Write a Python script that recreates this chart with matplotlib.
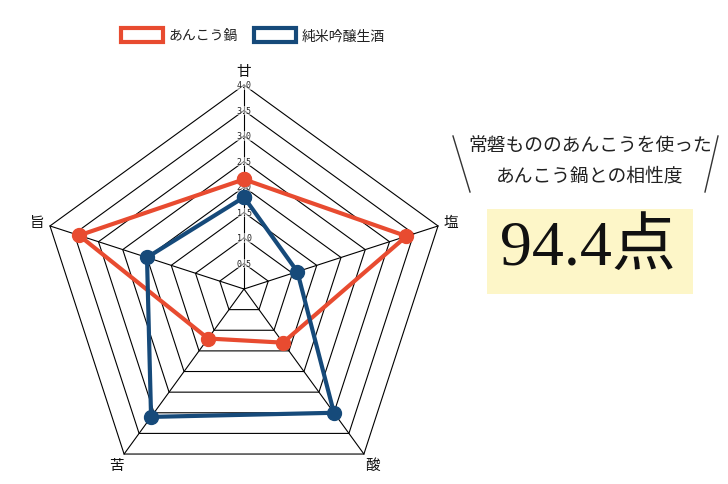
import numpy as np
import matplotlib
matplotlib.use("Agg")
import matplotlib.pyplot as plt
from matplotlib.patches import Patch, Rectangle
from matplotlib.lines import Line2D

plt.rcParams['font.family'] = ['Noto Sans CJK JP', 'DejaVu Sans']

# --- data ---
axes_labels = ['甘', '塩', '酸', '苦', '旨']
series_names = ['あんこう鍋', '純米吟醸生酒']
nabe_values = [2.15, 3.35, 1.3, 1.2, 3.4]
sake_values = [1.8, 1.1, 3.0, 3.1, 2.0]
ring_values = [0.5, 1.0, 1.5, 2.0, 2.5, 3.0, 3.5, 4.0]
ring_labels = ['0.5', '1.0', '1.5', '2.0', '2.5', '3.0', '3.5', '4.0']
score_title = '常磐もののあんこうを使った\nあんこう鍋との相性度'
score_text = '94.4点'

RED = '#e84b30'
BLUE = '#164a7a'

n = len(axes_labels)
theta = np.arange(n) * 2 * np.pi / n   # clockwise from top


def to_xy(r):
    r = np.asarray(r, dtype=float)
    return r * np.sin(theta), r * np.cos(theta)


W, H = 728, 485
fig = plt.figure(figsize=(W / 100, H / 100), dpi=100)

# radar axes: center at pixel (244, 290), 51 px per unit
cx, cy, unit = 244, 290, 51
left_px, right_px, top_px, bot_px = 14, 474, 58, 482
ax = fig.add_axes([left_px / W, (H - bot_px) / H,
                   (right_px - left_px) / W, (bot_px - top_px) / H])
ax.set_xlim((left_px - cx) / unit, (right_px - cx) / unit)
ax.set_ylim((cy - bot_px) / unit, (cy - top_px) / unit)
ax.set_axis_off()

# grid rings
for rv in ring_values:
    gx, gy = to_xy([rv] * n)
    ax.plot(np.append(gx, gx[0]), np.append(gy, gy[0]), color='black', lw=0.8, zorder=1)
# spokes
ox, oy = to_xy([ring_values[-1]] * n)
for px, py in zip(ox, oy):
    ax.plot([0, px], [0, py], color='black', lw=0.8, zorder=1)

# tick labels on the top spoke
for rv, lab in zip(ring_values, ring_labels):
    ax.text(0, rv, lab, ha='center', va='center', fontsize=6,
            family='DejaVu Sans Mono', color='#222222', zorder=2,
            bbox=dict(facecolor='white', edgecolor='none', alpha=0.55, pad=0.2))

# axis labels
lx, ly = to_xy([4.27] * n)
for px, py, lab in zip(lx, ly, axes_labels):
    ax.text(px, py, lab, ha='center', va='center', fontsize=10.5, color='#111111')

# series
for vals, col, z in [(nabe_values, RED, 3), (sake_values, BLUE, 4)]:
    sx, sy = to_xy(vals)
    ax.plot(np.append(sx, sx[0]), np.append(sy, sy[0]), color=col, lw=3,
            marker='o', markersize=10, zorder=z)

# legend
handles = [Patch(facecolor='white', edgecolor=RED, linewidth=3),
           Patch(facecolor='white', edgecolor=BLUE, linewidth=3)]
leg = fig.legend(handles, series_names, loc='center', ncol=2,
                 bbox_to_anchor=(253 / W, 1 - 36 / H), frameon=False, fontsize=10,
                 handlelength=3.0, handleheight=1.2, handletextpad=0.4,
                 columnspacing=1.2)
for t in leg.get_texts():
    t.set_color('#222222')

# right side score panel
fig.text(590 / W, 1 - 161 / H, score_title, ha='center', va='center',
         fontsize=13.5, linespacing=1.55, color='#222222')
fig.add_artist(Line2D([453 / W, 470 / W], [1 - 137 / H, 1 - 193 / H],
                      color='#333333', lw=1))
fig.add_artist(Line2D([718 / W, 705 / W], [1 - 137 / H, 1 - 193 / H],
                      color='#333333', lw=1))
fig.add_artist(Rectangle((487 / W, 1 - 295 / H), 206 / W, 85 / H,
                         transform=fig.transFigure, facecolor='#fdf6c8',
                         edgecolor='none'))
fig.text(588 / W, 1 - 250 / H, score_text, ha='center', va='center', fontsize=46,
         family=['Liberation Serif', 'Noto Sans CJK JP'], color='#111111')

fig.savefig('out.png', dpi=100)
